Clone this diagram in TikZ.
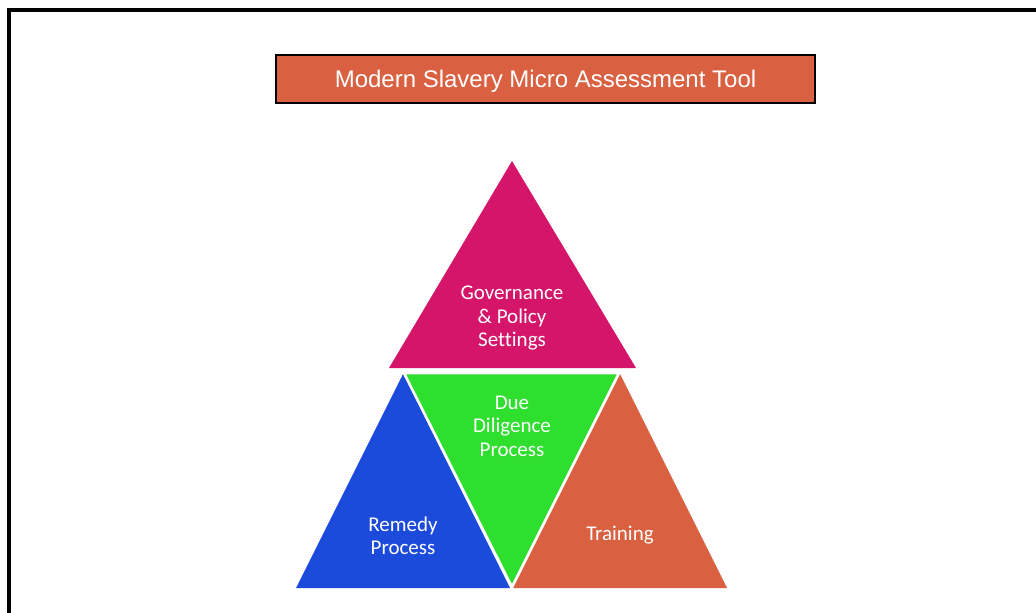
\documentclass[tikz,border=0pt]{standalone}
\usepackage{fontspec}
\setmainfont[Ligatures=NoCommon]{Carlito}
\newfontfamily\arialfont{Liberation Sans}
\definecolor{magentaT}{HTML}{D4156A}
\definecolor{greenT}{HTML}{2EDF2E}
\definecolor{blueT}{HTML}{1C4ADB}
\definecolor{orangeT}{HTML}{D96040}
\begin{document}
\begin{tikzpicture}[x=1pt,y=-1pt,
  lbl/.style={text=white,align=center,font=\fontsize{21}{23.5}\selectfont,inner sep=0pt}]
\useasboundingbox (0,0) rectangle (1036,613);
\fill[white] (0,0) rectangle (1036,613);
% frame
\draw[line width=4pt] (8.5,613) -- (8.5,10) -- (1036,10);
% title
\node[draw=black,line width=1.8pt,fill=orangeT,minimum width=539pt,minimum height=48pt,inner sep=0pt,
  text height=21.5pt,text depth=5pt,
  text=white,font=\arialfont\fontsize{24}{28}\selectfont] (title) at (545.5,79) {Modern Slavery Micro Assessment Tool};
% triangles
\fill[magentaT] (512,161) -- (636,368) -- (389,368) -- cycle;
\fill[blueT] (403,374) -- (510,588) -- (296,588) -- cycle;
\fill[orangeT] (620,374) -- (727,588) -- (513,588) -- cycle;
\filldraw[fill=greenT,draw=white,line width=2.5pt,line join=miter] (404,373) -- (619,373) -- (512,587) -- cycle;
% labels
\node[lbl] (gov) at (512,318) {Governance\\\& Policy\\Settings};
\node[lbl] (due) at (512,426) {Due\\Diligence\\Process};
\node[lbl] (rem) at (403,536) {Remedy\\Process};
\node[lbl] (tra) at (620,535) {Training};
\end{tikzpicture}
\end{document}
